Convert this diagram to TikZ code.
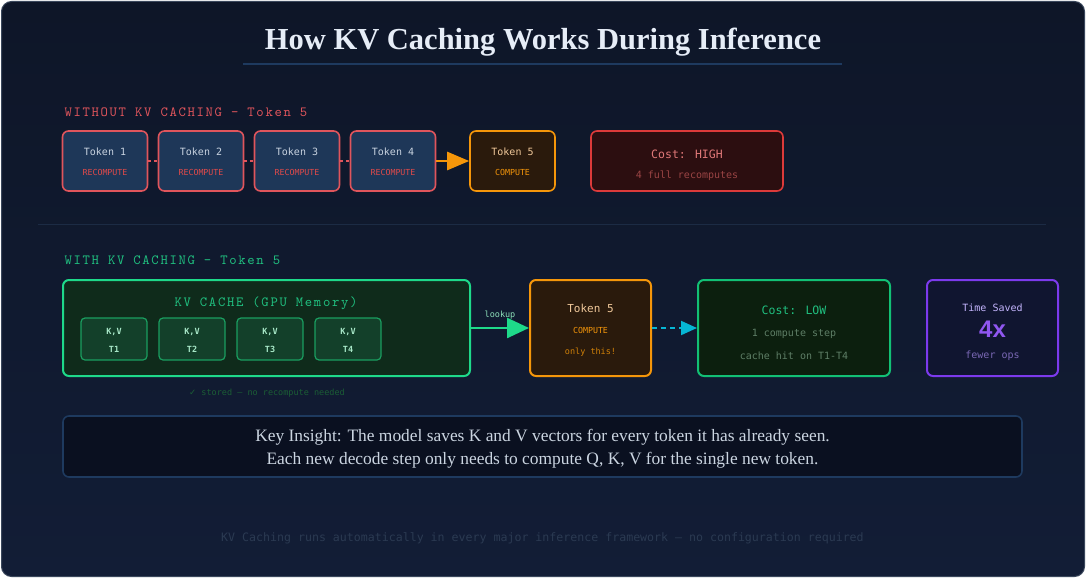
\documentclass[tikz,border=0pt]{standalone}
\usepackage{fontspec}
\setmainfont{Liberation Serif}
\newfontfamily\dvmono{DejaVu Sans Mono}
\newfontfamily\couriermono{lmmono10-regular}[Extension=.otf,LetterSpace=12]
\newfontfamily\dvsans{DejaVu Sans}
\newfontfamily\arialsans{Liberation Sans}
\usetikzlibrary{arrows.meta}
\definecolor{bgtop}{HTML}{0E1628}
\definecolor{bgbot}{HTML}{121D36}
\definecolor{framec}{HTML}{3A475C}
\definecolor{redc}{HTML}{E0555C}
\definecolor{redtxt}{HTML}{E04A4A}
\definecolor{tokfill}{HTML}{1E3758}
\definecolor{toktxt}{HTML}{C8D3E0}
\definecolor{orangec}{HTML}{F5960A}
\definecolor{orangefill}{HTML}{2A1A0C}
\definecolor{orangetxt}{HTML}{F0C89A}
\definecolor{highfill}{HTML}{2C0E10}
\definecolor{highline}{HTML}{DC3A3A}
\definecolor{hightxt}{HTML}{E07878}
\definecolor{highsub}{HTML}{9A4444}
\definecolor{greenc}{HTML}{1ED98A}
\definecolor{greentxt}{HTML}{20C080}
\definecolor{cachefill}{HTML}{0F2B1B}
\definecolor{kvfill}{HTML}{13402A}
\definecolor{kvline}{HTML}{1A9E60}
\definecolor{kvtxt}{HTML}{A8E8C8}
\definecolor{storedtxt}{HTML}{1B5E35}
\definecolor{cyanc}{HTML}{06B6D4}
\definecolor{lowfill}{HTML}{0C1F0E}
\definecolor{lowline}{HTML}{12C075}
\definecolor{lowsub}{HTML}{5E7E66}
\definecolor{purplec}{HTML}{7C3AED}
\definecolor{purplefill}{HTML}{101530}
\definecolor{purpletxt}{HTML}{C4B5FD}
\definecolor{purplesub}{HTML}{7A68B5}
\definecolor{insfill}{HTML}{0A1020}
\definecolor{insline}{HTML}{1E3A5F}
\definecolor{instxt}{HTML}{CBD5E1}
\definecolor{foottxt}{HTML}{2B3A52}
\definecolor{sepc}{HTML}{1C2B44}
\definecolor{titletxt}{HTML}{E6EDF7}
\begin{document}
\begin{tikzpicture}[x=1pt,y=-1pt,
  box/.style={draw,rounded corners=6pt,line width=1.6pt,inner sep=0pt},
  tokbox/.style={box,draw=redc,fill=tokfill,minimum width=85pt,minimum height=60pt},
  nowbox/.style={box,draw=orangec,fill=orangefill},
  kvbox/.style={box,rounded corners=4pt,line width=1.2pt,draw=kvline,fill=kvfill,minimum width=66pt,minimum height=42pt},
  secttl/.style={anchor=west,font=\couriermono\fontsize{14}{16}\selectfont},
  tok/.style={font=\dvmono\fontsize{10}{12}\selectfont},
  tiny/.style={font=\dvmono\fontsize{8.3}{9}\selectfont},
  kv/.style={font=\dvmono\bfseries\fontsize{8.5}{10}\selectfont,text=kvtxt}]
  \shade[top color=bgtop,bottom color=bgbot,rounded corners=10pt,draw=framec,line width=1pt]
    (1.5,1.5) rectangle (1084.5,576.5);
  \useasboundingbox (0,0) rectangle (1086,578);
  % title
  \node[font=\bfseries\fontsize{30.5}{33}\selectfont,text=titletxt] (title) at (543,42) {How KV Caching Works During Inference};
  \draw[insline,line width=2pt] (243,64) -- (842,64);
  % without caching
  \node[secttl,text=redc] (lbla) at (61,112) {WITHOUT KV CACHING — Token 5};
  \foreach \i/\x in {1/105,2/201,3/297,4/393}{
    \node[tokbox] (t\i) at (\x,161) {};
    \node[tok,text=toktxt] (t\i a) at (\x,152) {Token \i};
    \node[tiny,text=redtxt] (t\i b) at (\x,172) {RECOMPUTE};
  }
  \foreach \a/\b in {1/2,2/3,3/4}
    \draw[redc,line width=1.4pt,dash pattern=on 3pt off 3pt] (t\a.east) -- (t\b.west);
  \node[nowbox,minimum width=85pt,minimum height=60pt] (t5) at (512.5,161) {};
  \node[tok,text=orangetxt] (t5a) at (512.5,152) {Token 5};
  \node[tiny,text=orangec] (t5b) at (512.5,172) {COMPUTE};
  \draw[orangec,line width=2.5pt,-{Triangle[length=22pt,width=18pt]}] (t4.east) -- (t5.west);
  \node[box,draw=highline,fill=highfill,minimum width=192pt,minimum height=60pt] (high) at (687,161) {};
  \node[font=\dvmono\fontsize{11.5}{13}\selectfont,text=hightxt] (higha) at (687,154) {Cost: HIGH};
  \node[tok,text=highsub] (highb) at (687,176) {4 full recomputes};
  \draw[sepc,line width=1pt] (38,224) -- (1046,224);
  % with caching
  \node[secttl,text=greentxt] (lblb) at (61,260) {WITH KV CACHING — Token 5};
  \node[box,line width=2pt,draw=greenc,fill=cachefill,minimum width=407pt,minimum height=96pt] (cache) at (266.5,328) {};
  \node[font=\couriermono\fontsize{14}{16}\selectfont,text=greentxt] (cachet) at (266,303) {KV CACHE (GPU Memory)};
  \foreach \i/\x in {1/114,2/192,3/270,4/348}{
    \node[kvbox] (kv\i) at (\x,339) {};
    \node[kv] (kv\i a) at (\x,332) {K,V};
    \node[kv] (kv\i b) at (\x,349) {T\i};
  }
  \node[font=\dvmono\fontsize{8.5}{10}\selectfont,text=storedtxt] (stored) at (267,393) {{\dvsans ✓} stored — no recompute needed};
  \node[box,line width=2pt,draw=orangec,fill=orangefill,minimum width=121pt,minimum height=96pt] (tb) at (590.5,328) {};
  \node[font=\dvmono\fontsize{11}{13}\selectfont,text=orangetxt] (tba) at (590.5,308) {Token 5};
  \node[tiny,text=orangec] (tbb) at (590.5,330) {COMPUTE};
  \node[font=\dvmono\fontsize{8.5}{10}\selectfont,text=orangec!85!black] (tbc) at (590.5,352) {only this!};
  \draw[greenc,line width=2.5pt,-{Triangle[length=22pt,width=20pt]}] (cache.east) -- (tb.west)
    node[midway,above=4pt,font=\dvmono\fontsize{8.5}{10}\selectfont,text=kvtxt!80!greentxt] (lookup) {lookup};
  \node[box,line width=2pt,draw=lowline,fill=lowfill,minimum width=192pt,minimum height=96pt] (low) at (794,328) {};
  \node[font=\dvmono\fontsize{11.5}{13}\selectfont,text=greentxt] (lowa) at (794,310) {Cost: LOW};
  \node[tok,text=lowsub] (lowb) at (794,334) {1 compute step};
  \node[tok,text=lowsub] (lowc) at (794,356) {cache hit on T1-T4};
  \draw[cyanc,line width=2pt,dash pattern=on 5pt off 4pt,-{Triangle[length=16pt,width=14pt]}] (tb.east) -- (low.west);
  \node[box,line width=2pt,draw=purplec,fill=purplefill,minimum width=131pt,minimum height=96pt] (saved) at (992.5,328) {};
  \node[tok,text=purpletxt] (saveda) at (992.5,308) {Time Saved};
  \node[font=\arialsans\bfseries\fontsize{24}{26}\selectfont,text=purplec!85!white] (savedb) at (992.5,329) {4x};
  \node[tok,text=purplesub] (savedc) at (992.5,356) {fewer ops};
  % insight
  \node[box,line width=1.6pt,draw=insline,fill=insfill,minimum width=959pt,minimum height=61pt] (insight) at (542.5,446.5) {};
  \node[font=\fontsize{17.4}{19}\selectfont,text=instxt] (insa) at (542.5,437) {Key Insight: The model saves K and V vectors for every token it has already seen.};
  \node[font=\fontsize{17.4}{19}\selectfont,text=instxt] (insb) at (542.5,460) {Each new decode step only needs to compute Q, K, V for the single new token.};
  \node[font=\dvmono\fontsize{11.6}{13}\selectfont,text=foottxt] (foot) at (542.5,538) {KV Caching runs automatically in every major inference framework — no configuration required};
\end{tikzpicture}
\end{document}
